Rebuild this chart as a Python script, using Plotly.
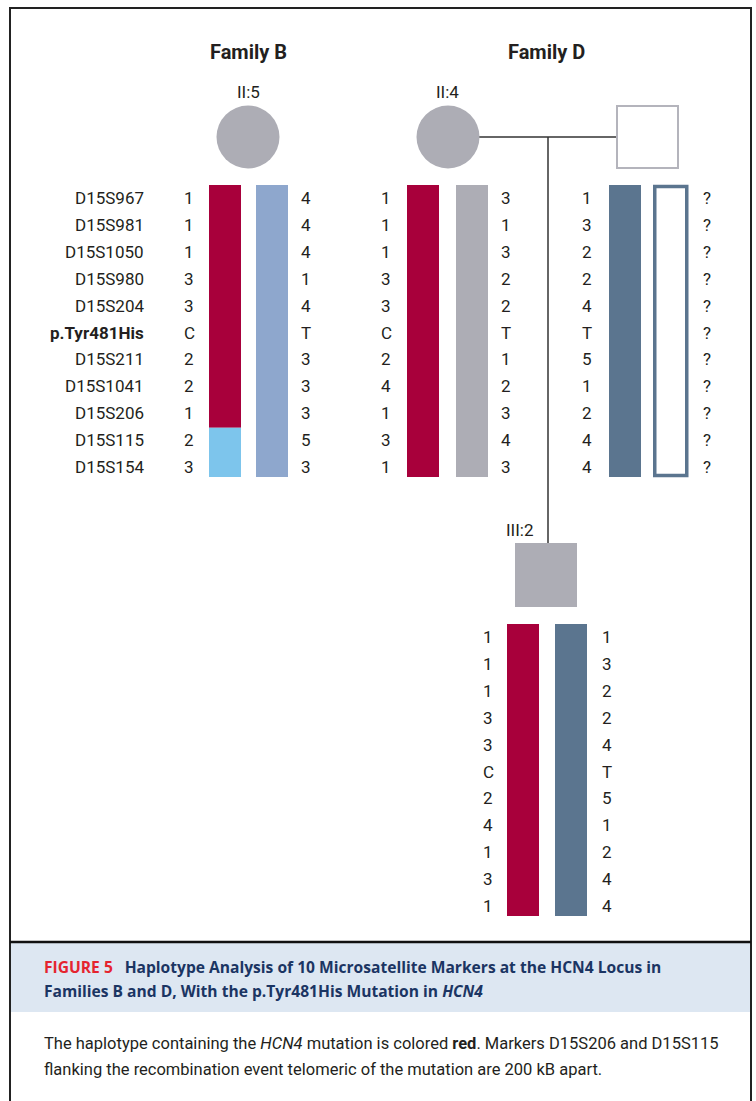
import plotly.graph_objects as go

# ---- data -----------------------------------------------------------------
markers = ["D15S967", "D15S981", "D15S1050", "D15S980", "D15S204", "p.Tyr481His",
           "D15S211", "D15S1041", "D15S206", "D15S115", "D15S154"]

# Family B, II:5
b_ii5_hap1 = ["1", "1", "1", "3", "3", "C", "2", "2", "1", "2", "3"]
b_ii5_hap2 = ["4", "4", "4", "1", "4", "T", "3", "3", "3", "5", "3"]
# segment colour key for each marker of the haplotype bars
b_ii5_hap1_seg = ["mut"] * 9 + ["rec"] * 2
b_ii5_hap2_seg = ["b2"] * 11

# Family D, II:4 (mother)
d_ii4_hap1 = ["1", "1", "1", "3", "3", "C", "2", "4", "1", "3", "1"]
d_ii4_hap2 = ["3", "1", "3", "2", "2", "T", "1", "2", "3", "4", "3"]
# Family D, father (one inferred haplotype, one unknown)
d_fa_hap1 = ["1", "3", "2", "2", "4", "T", "5", "1", "2", "4", "4"]
d_fa_hap2 = ["?"] * 11
# Family D, III:2 (son)
d_iii2_hap1 = ["1", "1", "1", "3", "3", "C", "2", "4", "1", "3", "1"]
d_iii2_hap2 = ["1", "3", "2", "2", "4", "T", "5", "1", "2", "4", "4"]

# ---- styling --------------------------------------------------------------
W, H = 756, 1101
FONT = "Roboto"
CAP_FONT = "Open Sans"
TXT = "#231f20"
COL = {
    "mut": "#a8003b",   # haplotype carrying the mutation
    "rec": "#7dc5ec",   # recombined segment
    "b2": "#8ea7cd",
    "grey": "#adadb5",
    "slate": "#5b758f",
}
ROW_STEP = 26.9
ROW0_TOP = 199       # first marker row, generation II
ROW0_BOTTOM = 638    # first marker row, III:2
BAR_W = 32

fig = go.Figure()
shapes = []
annots = []


def row_y(base, i):
    return base + ROW_STEP * i


def text(x, y, s, size=17, anchor="center", bold=False, color=TXT, yshift=0):
    annots.append(dict(
        x=x, y=y, xref="x", yref="y", text=f"<b>{s}</b>" if bold else s,
        showarrow=False, xanchor=anchor, yanchor="middle", yshift=yshift,
        font=dict(family=FONT, size=size, color=color),
    ))


def hap_bar(x0, base, seg, outline=None):
    """Draw a haplotype bar, merging consecutive markers of one colour."""
    n = len(seg)
    top = row_y(base, 0) - 14
    bottom = row_y(base, n - 1) + 9
    if outline:
        shapes.append(dict(type="rect", xref="x", yref="y", x0=x0 + 1.75, x1=x0 + BAR_W + 1.75,
                           y0=top + 1.5, y1=bottom - 1.5,
                           line=dict(color=outline, width=3.5), fillcolor="white"))
        return
    start = 0
    for i in range(1, n + 1):
        if i == n or seg[i] != seg[start]:
            y0 = top if start == 0 else (row_y(base, start - 1) + row_y(base, start)) / 2
            y1 = bottom if i == n else (row_y(base, i - 1) + row_y(base, i)) / 2
            shapes.append(dict(type="rect", xref="x", yref="y", x0=x0, x1=x0 + BAR_W,
                               y0=y0, y1=y1, line=dict(width=0), fillcolor=COL[seg[start]]))
            start = i


def alleles(x, base, vals):
    for i, v in enumerate(vals):
        text(x, row_y(base, i), v, yshift=1)


# ---- outer frame and caption area ------------------------------------------
shapes.append(dict(type="rect", xref="x", yref="y", x0=10, x1=751, y0=8, y1=H + 20,
                   line=dict(color="#222", width=2), fillcolor="rgba(0,0,0,0)", layer="above"))
shapes.append(dict(type="rect", xref="x", yref="y", x0=11, x1=750, y0=943, y1=1012,
                   line=dict(width=0), fillcolor="#dde7f2", layer="below"))
shapes.append(dict(type="line", xref="x", yref="y", x0=10, x1=751, y0=942, y1=942,
                   line=dict(color="#111", width=2.5)))

# ---- Family B --------------------------------------------------------------
text(248, 52, "Family B", size=20, bold=True)
text(248, 92, "II:5", size=17)
shapes.append(dict(type="circle", xref="x", yref="y", x0=248 - 31.5, x1=248 + 31.5,
                   y0=137 - 31.5, y1=137 + 31.5, line=dict(width=0), fillcolor=COL["grey"]))
for i, m in enumerate(markers):
    text(146, row_y(ROW0_TOP, i), m, anchor="right", bold=(m.startswith("p.")), yshift=1)
alleles(189, ROW0_TOP, b_ii5_hap1)
hap_bar(209, ROW0_TOP, b_ii5_hap1_seg)
hap_bar(256, ROW0_TOP, b_ii5_hap2_seg)
alleles(306, ROW0_TOP, b_ii5_hap2)

# ---- Family D --------------------------------------------------------------
text(546, 52, "Family D", size=20, bold=True)
text(447, 92, "II:4", size=17)
line_style = dict(color="#333", width=1.5)
shapes.append(dict(type="line", xref="x", yref="y", x0=479, x1=616, y0=137, y1=137, line=line_style))
shapes.append(dict(type="line", xref="x", yref="y", x0=548, x1=548, y0=137, y1=543, line=line_style))
shapes.append(dict(type="circle", xref="x", yref="y", x0=448 - 31.5, x1=448 + 31.5,
                   y0=137 - 31.5, y1=137 + 31.5, line=dict(width=0), fillcolor=COL["grey"]))
shapes.append(dict(type="rect", xref="x", yref="y", x0=617, x1=678, y0=106, y1=168,
                   line=dict(color="#b4b4bc", width=2), fillcolor="white"))

alleles(386, ROW0_TOP, d_ii4_hap1)
hap_bar(407, ROW0_TOP, ["mut"] * 11)
hap_bar(456, ROW0_TOP, ["grey"] * 11)
alleles(506, ROW0_TOP, d_ii4_hap2)

alleles(587, ROW0_TOP, d_fa_hap1)
hap_bar(609, ROW0_TOP, ["slate"] * 11)
hap_bar(653, ROW0_TOP, ["none"] * 11, outline=COL["slate"])
alleles(707, ROW0_TOP, d_fa_hap2)

# III:2
text(520, 530, "III:2", size=17)
shapes.append(dict(type="rect", xref="x", yref="y", x0=515, x1=577, y0=543, y1=607,
                   line=dict(width=0), fillcolor=COL["grey"]))
alleles(488, ROW0_BOTTOM, d_iii2_hap1)
hap_bar(507, ROW0_BOTTOM, ["mut"] * 11)
hap_bar(555, ROW0_BOTTOM, ["slate"] * 11)
alleles(607, ROW0_BOTTOM, d_iii2_hap2)

# ---- caption ---------------------------------------------------------------
annots.append(dict(
    x=42, y=967, xref="x", yref="y", xanchor="left", yanchor="middle", showarrow=False,
    text="<b><span style='color:#e5242f'>FIGURE 5</span>\u2002 Haplotype Analysis of 10 "
         "Microsatellite Markers at the HCN4 Locus in</b>",
    font=dict(family=CAP_FONT, size=15.6, color="#1b3563"),
))
annots.append(dict(
    x=42, y=991, xref="x", yref="y", xanchor="left", yanchor="middle", showarrow=False,
    text="<b>Families B and D, With the p.Tyr481His Mutation in <i>HCN4</i></b>",
    font=dict(family=CAP_FONT, size=15.6, color="#1b3563"),
))
annots.append(dict(
    x=42, y=1043, xref="x", yref="y", xanchor="left", yanchor="middle", showarrow=False,
    text="The haplotype containing the <i>HCN4</i> mutation is colored <b>red</b>. "
         "Markers D15S206 and D15S115",
    font=dict(family=FONT, size=16.5, color=TXT),
))
annots.append(dict(
    x=42, y=1069, xref="x", yref="y", xanchor="left", yanchor="middle", showarrow=False,
    text="flanking the recombination event telomeric of the mutation are 200 kB apart.",
    font=dict(family=FONT, size=16.5, color=TXT),
))

fig.update_layout(
    width=W, height=H, margin=dict(l=0, r=0, t=0, b=0),
    paper_bgcolor="white", plot_bgcolor="white",
    xaxis=dict(range=[0, W], visible=False, fixedrange=True),
    yaxis=dict(range=[H, 0], visible=False, fixedrange=True),
    shapes=shapes, annotations=annots, showlegend=False,
)
fig.write_html("out.html")
